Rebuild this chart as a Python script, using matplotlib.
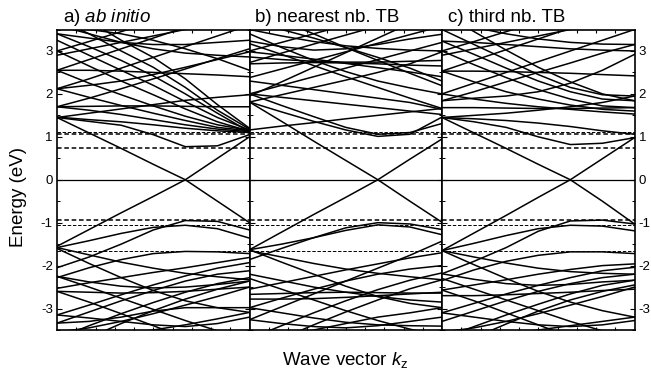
import matplotlib
matplotlib.use("Agg")
import matplotlib.pyplot as plt
import numpy as np

plt.rcParams['font.family'] = ['Liberation Sans', 'DejaVu Sans']
plt.rcParams['mathtext.fontset'] = 'custom'
plt.rcParams['mathtext.rm'] = 'Liberation Sans'
plt.rcParams['mathtext.it'] = 'Liberation Sans:italic'
plt.rcParams['axes.unicode_minus'] = False

# k grid (fraction of the plotted k range), energies in eV
k_grid = [0.0, 1/6, 1/3, 0.5, 2/3, 5/6, 1.0]

# a) ab initio
bands_a = [
    [1.45, 1.09, 0.73, 0.36, 0.00, -0.50, -1.00],
    [1.45, 1.36, 1.27, 1.05, 0.77, 0.79, 1.05],
    [1.46, 1.40, 1.35, 1.28, 1.20, 1.14, 1.10],
    [1.70, 1.62, 1.52, 1.40, 1.28, 1.18, 1.12],
    [2.12, 1.92, 1.73, 1.55, 1.38, 1.22, 1.14],
    [2.55, 2.25, 1.98, 1.72, 1.48, 1.28, 1.15],
    [3.00, 2.65, 2.30, 1.98, 1.65, 1.35, 1.13],
    [3.25, 2.90, 2.55, 2.20, 1.82, 1.45, 1.16],
    [3.40, 3.10, 2.78, 2.42, 2.00, 1.55, 1.12],
    [3.75, 3.40, 3.00, 2.62, 2.15, 1.62, 1.18],
    [4.10, 3.70, 3.25, 2.85, 2.35, 1.75, 1.20],
    [1.45, 1.55, 1.65, 1.75, 1.85, 1.92, 1.98],
    [1.70, 1.71, 1.72, 1.72, 1.71, 1.70, 1.70],
    [2.12, 2.20, 2.30, 2.45, 2.62, 2.80, 2.98],
    [1.70, 1.90, 2.12, 2.35, 2.58, 2.82, 3.05],
    [2.55, 2.55, 2.53, 2.50, 2.47, 2.44, 2.40],
    [2.12, 2.35, 2.60, 2.85, 3.10, 3.35, 3.60],
    [2.55, 2.80, 3.05, 3.30, 3.55, 3.80, 4.05],
    [3.00, 3.22, 3.45, 3.68, 3.90, 4.10, 4.30],
    [3.40, 3.30, 3.20, 3.15, 3.15, 3.20, 3.25],
    [3.60, 3.40, 3.20, 3.05, 2.95, 2.90, 2.86],
    [2.90, 3.05, 3.20, 3.35, 3.50, 3.65, 3.80],
    [3.55, 3.50, 3.40, 3.25, 3.05, 2.82, 2.55],
    [-1.55, -1.16, -0.77, -0.39, 0.00, 0.50, 1.00],
    [-2.05, -1.80, -1.50, -1.17, -0.95, -0.97, -1.17],
    [-1.58, -1.42, -1.25, -1.11, -1.06, -1.14, -1.36],
    [-2.28, -2.05, -1.86, -1.72, -1.67, -1.68, -1.72],
    [-1.58, -1.75, -1.92, -2.06, -2.18, -2.26, -2.33],
    [-1.60, -1.95, -2.28, -2.58, -2.82, -2.98, -3.09],
    [-2.25, -2.38, -2.48, -2.52, -2.50, -2.44, -2.36],
    [-2.53, -2.40, -2.28, -2.16, -2.05, -1.93, -1.81],
    [-2.60, -2.62, -2.64, -2.63, -2.60, -2.55, -2.50],
    [-3.15, -2.92, -2.68, -2.45, -2.24, -2.06, -1.93],
    [-3.34, -3.08, -2.82, -2.58, -2.36, -2.20, -2.12],
    [-3.70, -3.40, -3.12, -2.86, -2.62, -2.42, -2.28],
    [-4.00, -3.68, -3.35, -3.05, -2.78, -2.55, -2.36],
    [-3.80, -3.70, -3.60, -3.50, -3.38, -3.24, -3.09],
    [-2.25, -2.50, -2.76, -3.02, -3.28, -3.52, -3.75],
    [-3.15, -3.22, -3.30, -3.38, -3.42, -3.35, -3.20],
    [-2.60, -2.85, -3.12, -3.40, -3.68, -3.95, -4.20],
    [-3.34, -3.30, -3.20, -3.06, -2.98, -2.98, -2.98],
    [-3.55, -3.45, -3.30, -3.12, -2.92, -2.72, -2.50],
]

# b) nearest neighbour TB
bands_b = [
    [1.81, 1.36, 0.90, 0.45, 0.00, -0.50, -0.99],
    [2.00, 1.73, 1.47, 1.22, 1.06, 1.10, 1.31],
    [1.81, 1.58, 1.36, 1.16, 1.01, 1.06, 1.46],
    [1.16, 1.25, 1.33, 1.42, 1.50, 1.58, 1.66],
    [2.00, 1.92, 1.84, 1.76, 1.68, 1.60, 1.52],
    [3.40, 3.08, 2.78, 2.52, 2.30, 2.14, 2.00],
    [3.17, 2.92, 2.66, 2.40, 2.15, 1.90, 1.66],
    [2.98, 2.90, 2.81, 2.71, 2.61, 2.51, 2.40],
    [2.86, 2.80, 2.76, 2.74, 2.74, 2.76, 2.78],
    [2.70, 2.72, 2.73, 2.72, 2.70, 2.67, 2.65],
    [2.00, 2.20, 2.40, 2.60, 2.80, 3.00, 3.20],
    [1.81, 1.98, 2.15, 2.32, 2.50, 2.70, 2.98],
    [3.70, 3.50, 3.30, 3.08, 2.85, 2.60, 2.30],
    [4.00, 3.70, 3.40, 3.08, 2.78, 2.48, 2.19],
    [2.38, 2.58, 2.78, 2.98, 3.18, 3.38, 3.58],
    [2.73, 2.95, 3.16, 3.37, 3.58, 3.80, 4.00],
    [1.95, 2.28, 2.62, 2.96, 3.30, 3.64, 3.98],
    [3.00, 3.20, 3.40, 3.60, 3.80, 4.00, 4.20],
    [3.23, 3.10, 3.02, 3.05, 3.15, 3.28, 3.39],
    [3.50, 3.35, 3.22, 3.12, 3.06, 3.02, 3.00],
    [2.30, 2.20, 2.10, 2.00, 1.90, 1.80, 1.64],
    [-1.63, -1.22, -0.81, -0.41, 0.00, 0.48, 0.95],
    [-1.86, -1.60, -1.35, -1.12, -1.00, -1.03, -1.16],
    [-1.63, -1.50, -1.35, -1.18, -1.05, -1.10, -1.28],
    [-1.65, -1.80, -1.95, -2.08, -2.18, -2.26, -2.33],
    [-1.63, -1.92, -2.20, -2.48, -2.72, -2.88, -2.98],
    [-3.26, -2.96, -2.66, -2.36, -2.06, -1.76, -1.43],
    [-2.98, -2.76, -2.55, -2.36, -2.20, -2.08, -2.00],
    [-2.67, -2.65, -2.63, -2.62, -2.63, -2.64, -2.64],
    [-2.78, -2.78, -2.77, -2.74, -2.70, -2.66, -2.62],
    [-2.20, -2.35, -2.50, -2.62, -2.72, -2.80, -2.85],
    [-3.70, -3.40, -3.10, -2.82, -2.56, -2.34, -2.17],
    [-4.00, -3.70, -3.38, -3.08, -2.80, -2.54, -2.33],
    [-2.30, -2.55, -2.80, -3.05, -3.28, -3.48, -3.65],
    [-2.98, -3.10, -3.22, -3.32, -3.38, -3.40, -3.41],
    [-3.26, -3.35, -3.42, -3.45, -3.40, -3.30, -3.20],
    [-3.80, -3.65, -3.50, -3.35, -3.20, -3.10, -2.98],
    [-2.55, -2.40, -2.25, -2.10, -1.96, -1.82, -1.70],
]

# c) third neighbour TB
bands_c = [
    [1.45, 1.09, 0.73, 0.36, 0.00, -0.50, -1.03],
    [1.45, 1.35, 1.22, 1.00, 0.82, 0.85, 0.98],
    [1.45, 1.42, 1.38, 1.32, 1.24, 1.14, 1.06],
    [1.68, 1.68, 1.67, 1.66, 1.66, 1.67, 1.68],
    [2.00, 1.88, 1.78, 1.70, 1.64, 1.58, 1.53],
    [2.53, 2.28, 2.05, 1.88, 1.74, 1.64, 1.60],
    [3.00, 2.68, 2.38, 2.10, 1.88, 1.72, 1.68],
    [3.23, 2.92, 2.60, 2.30, 2.05, 1.88, 1.84],
    [3.50, 3.15, 2.80, 2.45, 2.15, 1.98, 1.95],
    [3.90, 3.45, 3.02, 2.62, 2.28, 2.00, 1.84],
    [1.84, 1.90, 1.95, 2.05, 2.25, 2.55, 2.92],
    [2.53, 2.53, 2.52, 2.50, 2.48, 2.45, 2.42],
    [2.00, 2.25, 2.50, 2.75, 3.00, 3.25, 3.50],
    [1.84, 2.05, 2.28, 2.50, 2.72, 2.95, 3.15],
    [2.53, 2.78, 3.03, 3.28, 3.53, 3.78, 4.03],
    [3.00, 3.22, 3.45, 3.68, 3.90, 4.10, 4.30],
    [3.23, 3.20, 3.15, 3.10, 3.05, 3.02, 3.00],
    [3.70, 3.55, 3.40, 3.28, 3.20, 3.16, 3.15],
    [1.45, 1.50, 1.55, 1.62, 1.70, 1.80, 1.95],
    [2.90, 3.05, 3.20, 3.35, 3.50, 3.65, 3.80],
    [-1.65, -1.24, -0.83, -0.41, 0.00, 0.49, 0.98],
    [-2.19, -1.90, -1.58, -1.20, -0.96, -0.94, -1.03],
    [-1.65, -1.48, -1.30, -1.14, -1.06, -1.08, -1.19],
    [-2.35, -2.10, -1.90, -1.76, -1.68, -1.68, -1.72],
    [-1.65, -1.80, -1.94, -2.06, -2.14, -2.18, -2.20],
    [-1.65, -1.98, -2.30, -2.60, -2.85, -3.05, -3.20],
    [-2.19, -2.32, -2.42, -2.46, -2.44, -2.38, -2.34],
    [-2.57, -2.45, -2.33, -2.20, -2.09, -2.00, -1.96],
    [-2.70, -2.70, -2.68, -2.65, -2.62, -2.58, -2.55],
    [-3.10, -2.88, -2.66, -2.46, -2.28, -2.12, -2.04],
    [-3.30, -3.06, -2.82, -2.60, -2.42, -2.28, -2.20],
    [-3.70, -3.42, -3.15, -2.90, -2.66, -2.46, -2.34],
    [-4.00, -3.68, -3.36, -3.06, -2.80, -2.60, -2.45],
    [-3.80, -3.70, -3.60, -3.50, -3.40, -3.30, -3.20],
    [-2.30, -2.55, -2.80, -3.05, -3.30, -3.52, -3.75],
    [-3.10, -3.20, -3.30, -3.38, -3.42, -3.38, -3.28],
    [-2.57, -2.82, -3.10, -3.38, -3.66, -3.92, -4.20],
    [-3.55, -3.45, -3.30, -3.12, -2.92, -2.72, -2.50],
]

panel_titles = [r"a) $\mathit{ab\ initio}$", "b) nearest nb. TB", "c) third nb. TB"]
dash_thick = [0.74, 1.06, -0.93]
dash_thin = [1.12, -1.05, -1.67]
y_ticks = [-3, -2, -1, 0, 1, 2, 3]

fig, axes = plt.subplots(1, 3, figsize=(6.51, 3.76), dpi=100, sharey=True)
fig.subplots_adjust(left=57/651, right=634.5/651, top=1-29.5/376, bottom=1-330/376, wspace=0)

for ax, bands, title in zip(axes, [bands_a, bands_b, bands_c], panel_titles):
    for b in bands:
        ax.plot(k_grid, b, color='k', lw=1.1, solid_joinstyle='round')
    ax.axhline(0, color='k', lw=0.9)
    for e in dash_thick:
        ax.axhline(e, color='k', lw=1.1, ls=(0, (3, 1.8)))
    for e in dash_thin:
        ax.axhline(e, color='k', lw=0.7, ls=(0, (3.5, 1.8)))
    ax.set_xlim(0, 1)
    ax.set_ylim(-3.5, 3.5)
    ax.set_yticks(y_ticks)
    ax.set_yticks(np.arange(-3.5, 3.6, 0.5), minor=True)
    ax.set_xticks(np.arange(0.1, 1.0, 0.1))
    ax.tick_params(axis='x', direction='in', top=True, bottom=True, labelbottom=False, length=2.5, width=0.8)
    ax.tick_params(axis='y', which='major', direction='in', left=True, right=True, length=3.5, width=0.8,
                   labelleft=False, labelright=False, labelsize=9.5)
    ax.tick_params(axis='y', which='minor', direction='in', left=True, right=True, length=2, width=0.7)
    for s in ax.spines.values():
        s.set_linewidth(1.2)
    ax.text(0.03, 1.025, title, transform=ax.transAxes, fontsize=13.5, va='baseline', ha='left')

axes[0].tick_params(axis='y', labelleft=True, pad=3)
axes[2].tick_params(axis='y', labelright=True, pad=3)

fig.text(0.028, 0.477, "Energy (eV)", rotation=90, fontsize=13.5, ha='center', va='center')
fig.text(0.53, 0.043, r"Wave vector $\mathit{k}_\mathrm{z}$", fontsize=13.5, ha='center', va='center')

fig.savefig("out.png", dpi=100)
